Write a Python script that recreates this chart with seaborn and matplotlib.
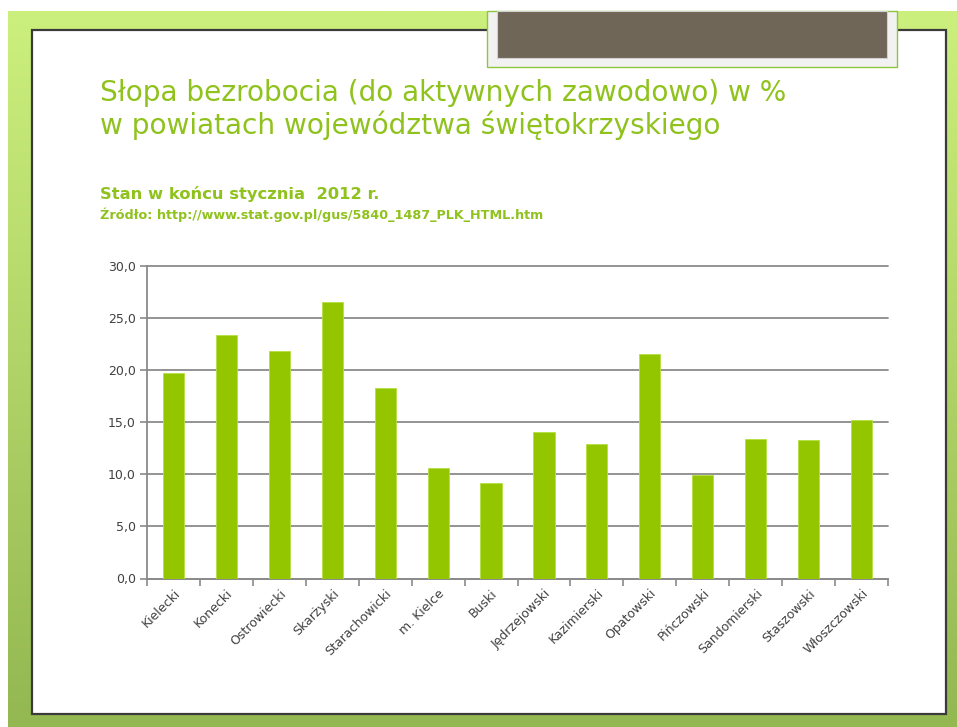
import numpy as np
import pandas as pd
import matplotlib
matplotlib.use("Agg")
import matplotlib.pyplot as plt
from matplotlib.patches import Rectangle
from matplotlib.ticker import FuncFormatter, FixedLocator
import seaborn as sns

categories = ["Kielecki", "Konecki", "Ostrowiecki", "Skarżyski", "Starachowicki",
              "m. Kielce", "Buski", "Jędrzejowski", "Kazimierski", "Opatowski",
              "Pińczowski", "Sandomierski", "Staszowski", "Włoszczowski"]
values = [19.7, 23.4, 21.8, 26.5, 18.3, 10.6, 9.2, 14.1, 12.9, 21.6, 9.9, 13.4, 13.3, 15.2]
y_ticks = [0, 5, 10, 15, 20, 25, 30]

title_lines = ["Słopa bezrobocia (do aktywnych zawodowo) w %",
               "w powiatach województwa świętokrzyskiego"]
subtitle = "Stan w końcu stycznia  2012 r."
source = "Źródło: http://www.stat.gov.pl/gus/5840_1487_PLK_HTML.htm"

sns.set_theme(style="white")
plt.rcParams['font.family'] = ['DejaVu Sans']

W, H = 957, 727
fig = plt.figure(figsize=(W / 100, H / 100), dpi=100)
fig.patch.set_facecolor("white")

# background layer in pixel coordinates
bg = fig.add_axes([0, 0, 1, 1], zorder=0)
bg.set_xlim(0, W)
bg.set_ylim(H, 0)
bg.axis("off")
top = np.array([0.80, 0.94, 0.49])
bot = np.array([0.58, 0.72, 0.32])
t = np.linspace(0, 1, 256)[:, None, None]
grad = top * (1 - t) + bot * t
grad = np.repeat(grad, 2, axis=1)
bg.imshow(grad, extent=(8, W, H, 11), aspect="auto", zorder=0)
bg.add_patch(Rectangle((32, 30), 914, 684, facecolor="white", edgecolor="#3a3a3a", lw=1.6, zorder=1))
bg.add_patch(Rectangle((487, 11), 410, 56, facecolor="#f2f2f2", edgecolor="#8cc63f", lw=1.0, zorder=2))
bg.add_patch(Rectangle((497, 11), 390, 47, facecolor="#6f6658", edgecolor="#d0d0d0", lw=0.8, zorder=3))

green_txt = "#8fc21c"
bg.text(100, 101, title_lines[0], color=green_txt, fontsize=20.2, va="baseline", ha="left", zorder=4)
bg.text(100, 134, title_lines[1], color=green_txt, fontsize=20.2, va="baseline", ha="left", zorder=4)
bg.text(100, 199, subtitle, color=green_txt, fontsize=11.8, fontweight="bold", va="baseline", ha="left", zorder=4)
bg.text(100, 219, source, color=green_txt, fontsize=9.2, fontweight="bold", va="baseline", ha="left", zorder=4)

# chart
x0, x1, y0, y1 = 147, 888, 578.5, 266
ax = fig.add_axes([x0 / W, (H - y0) / H, (x1 - x0) / W, (y0 - y1) / H], zorder=2)
ax.set_facecolor("none")
df = pd.DataFrame({"powiat": categories, "stopa": values})
sns.barplot(data=df, x="powiat", y="stopa", color="#94c600", width=0.4,
            edgecolor="#b5e040", linewidth=0.6, ax=ax, zorder=3, saturation=1)
ax.set_xlim(-0.5, len(categories) - 0.5)
ax.set_ylim(0, 30)
ax.yaxis.set_major_locator(FixedLocator(y_ticks))
ax.yaxis.set_major_formatter(FuncFormatter(lambda v, p: f"{v:.1f}".replace(".", ",")))
ax.grid(axis="y", color="#8a8a8a", lw=1.3, zorder=0)
ax.grid(axis="x", visible=False)
for s in ["top", "right"]:
    ax.spines[s].set_visible(False)
for s in ["left", "bottom"]:
    ax.spines[s].set_color("#8a8a8a")
    ax.spines[s].set_linewidth(1.3)
ax.set_xlabel("")
ax.set_ylabel("")
ax.tick_params(axis="y", which="major", direction="out", length=5, width=1.2, color="#8a8a8a",
               labelsize=9, labelcolor="#404040", pad=3, left=True)
ax.tick_params(axis="x", which="major", length=0, labelsize=9, labelcolor="#404040", pad=6)
ax.xaxis.set_minor_locator(FixedLocator(np.arange(-0.5, len(categories), 1.0)))
ax.tick_params(axis="x", which="minor", direction="out", length=5, width=1.2, color="#8a8a8a", bottom=True)
ax.set_xticks(range(len(categories)))
ax.set_xticklabels(categories, rotation=45, ha="right", rotation_mode="anchor")
for gl in ax.get_ygridlines():
    gl.set_clip_on(False)

fig.savefig("out.png", dpi=100)
